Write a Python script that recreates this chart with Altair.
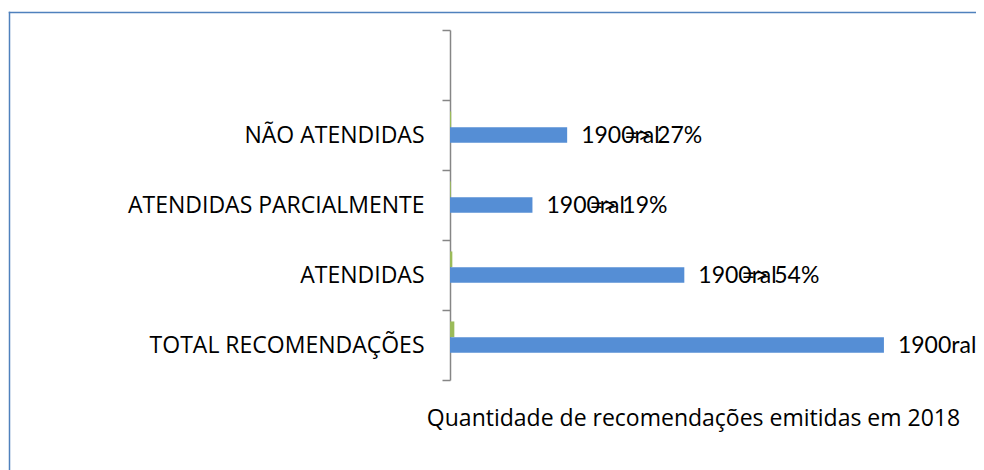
import altair as alt
import pandas as pd

# ---- data ----
categories = ["TOTAL RECOMENDAÇÕES", "ATENDIDAS", "ATENDIDAS PARCIALMENTE", "NÃO ATENDIDAS"]
quantidade = [100, 54, 19, 27]          # blue series
proporcao = [1.0, 0.54, 0.19, 0.27]     # green series (tiny bars)
rotulo_valor = ["1900ral", "1900ral", "1900ral", "1900ral"]
rotulo_pct = ["", "=> 54%", "=> 19%", "=> 27%"]

y_domain = [" ", "NÃO ATENDIDAS", "ATENDIDAS PARCIALMENTE", "ATENDIDAS", "TOTAL RECOMENDAÇÕES"]
series_domain = ["pct", "count", "none"]

AXFONT = "Open Sans"
LBFONT = "Lato"
BLUE = "#558ED5"
GREEN = "#9BBB59"
BORDER = "#4F81BD"

rows = []
for c, q, p, lv, lp in zip(categories, quantidade, proporcao, rotulo_valor, rotulo_pct):
    rows.append({"cat": c, "series": "pct", "value": p, "lv": "", "lp": ""})
    rows.append({"cat": c, "series": "count", "value": q, "lv": lv, "lp": lp})
df = pd.DataFrame(rows)
df_count = df[df.series == "count"]

y_enc = alt.Y(
    "cat:N",
    scale=alt.Scale(domain=y_domain, paddingInner=0, paddingOuter=0),
    axis=alt.Axis(
        title=None,
        domainColor="#868686",
        domainWidth=1.5,
        tickColor="#868686",
        tickWidth=1.5,
        tickSize=8,
        tickBand="extent",
        labelPadding=18,
        labelLimit=500,
        labelFont=AXFONT,
        labelFontSize=23,
        labelColor="black",
    ),
)
x_enc = alt.X(
    "value:Q",
    scale=alt.Scale(domain=[0, 112], nice=False),
    axis=alt.Axis(
        title="Quantidade de recomendações emitidas em 2018",
        labels=False,
        ticks=False,
        domain=False,
        grid=False,
        titleFont=AXFONT,
        titleFontSize=23,
        titleFontWeight="normal",
        titleColor="black",
        titlePadding=27,
    ),
)
yoff = alt.YOffset(
    "series:N",
    scale=alt.Scale(domain=series_domain, paddingInner=0, paddingOuter=0.73),
)

bars = alt.Chart(df).mark_bar().encode(
    y=y_enc,
    x=x_enc,
    yOffset=yoff,
    color=alt.Color(
        "series:N",
        scale=alt.Scale(domain=["pct", "count"], range=[GREEN, BLUE]),
        legend=None,
    ),
)

lab1 = alt.Chart(df_count).mark_text(
    align="left", baseline="middle", dx=14, dy=1, font=LBFONT, fontSize=23, color="black"
).encode(y=alt.Y("cat:N"), x="value:Q", yOffset="series:N", text="lv:N")

lab2 = alt.Chart(df_count).mark_text(
    align="right", baseline="middle", dx=135, dy=1, font=LBFONT, fontSize=23, color="black"
).encode(y=alt.Y("cat:N"), x="value:Q", yOffset="series:N", text="lp:N")

one = pd.DataFrame({"k": [0]})
frame_left = alt.Chart(one).mark_rule(stroke=BORDER, strokeWidth=1.5).encode(
    x=alt.value(-440.5), y=alt.value(-18.25), y2=alt.value(440)
)
frame_top = alt.Chart(one).mark_rule(stroke=BORDER, strokeWidth=1.5).encode(
    x=alt.value(-441.25), x2=alt.value(526), y=alt.value(-17.5)
)

chart = alt.layer(bars, lab1, lab2, frame_left, frame_top).properties(
    width=486,
    height=350,
    autosize=alt.AutoSizeParams(type="none"),
    padding={"left": 442, "top": 22, "right": 40, "bottom": 90},
).configure_view(stroke=None)

chart.save("out.html", embed_options={"renderer": "svg", "actions": False})
